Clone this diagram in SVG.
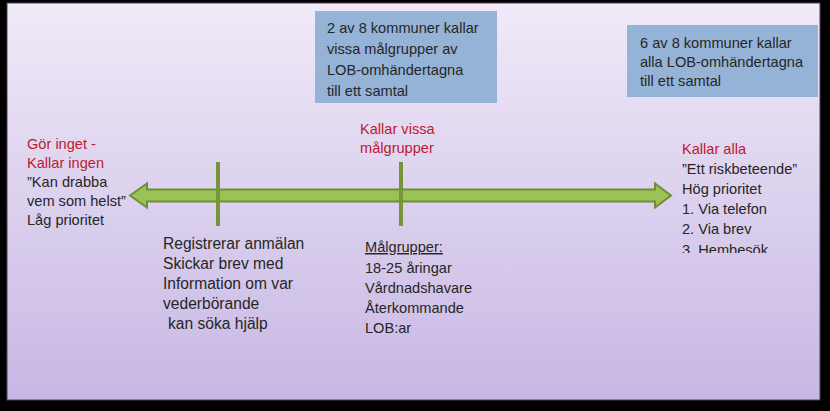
<svg xmlns="http://www.w3.org/2000/svg" width="830" height="411" viewBox="0 0 830 411">
<defs>
<linearGradient id="bg" x1="0" y1="0" x2="0" y2="1">
<stop offset="0" stop-color="#f0eaf8"/>
<stop offset="1" stop-color="#c7b7e4"/>
</linearGradient>
<clipPath id="clipR"><rect x="600" y="100" width="220" height="153"/></clipPath>
</defs>
<style>
text{font-family:"Liberation Sans",Arial,sans-serif;font-size:14.6px;fill:#262626}
.red{fill:#c0182e}
.box{fill:#95b3d7}
.tick{stroke:#77933c;stroke-width:4;fill:none}
.big{font-size:15.6px}
</style>
<rect x="0" y="0" width="830" height="411" fill="#000"/>
<rect x="7" y="3" width="813" height="397" fill="url(#bg)" stroke="#4a3f5c" stroke-width="1"/>
<g id="connectors">
<path d="M130,195.5 L147,183.5 L147,189.5 L655,189.5 L655,183.5 L671,195.5 L655,207.5 L655,201.5 L147,201.5 L147,207.5 Z" fill="#9bc255" stroke="#6f8e35" stroke-width="2" stroke-linejoin="miter"/>
<line class="tick" x1="218" y1="162" x2="218" y2="226"/>
<line class="tick" x1="401" y1="162" x2="401" y2="226"/>
</g>
<g id="box-two-of-eight">
<rect class="box" x="315" y="11" width="182" height="92"/>
<text x="327" y="33">2 av 8 kommuner kallar</text>
<text x="327" y="54">vissa målgrupper av</text>
<text x="327" y="75">LOB-omhändertagna</text>
<text x="327" y="96">till ett samtal</text>
</g>
<g id="box-six-of-eight">
<rect class="box" x="627" y="25" width="191" height="72"/>
<text x="640" y="48">6 av 8 kommuner kallar</text>
<text x="640" y="67">alla LOB-omhändertagna</text>
<text x="640" y="86">till ett samtal</text>
</g>
<g id="node-left">
<text class="red" x="27" y="149">Gör inget -</text>
<text class="red" x="27" y="168">Kallar ingen</text>
<text x="27" y="187">”Kan drabba</text>
<text x="27" y="206">vem som helst”</text>
<text x="27" y="225">Låg prioritet</text>
</g>
<g id="node-middle">
<text class="red" x="360" y="134">Kallar vissa</text>
<text class="red" x="360" y="153">målgrupper</text>
</g>
<g id="node-right" clip-path="url(#clipR)">
<text class="red" x="682" y="154">Kallar alla</text>
<text x="682" y="174">”Ett riskbeteende”</text>
<text x="682" y="194">Hög prioritet</text>
<text x="682" y="214">1. Via telefon</text>
<text x="682" y="234">2. Via brev</text>
<text x="682" y="255">3. Hembesök</text>
</g>
<g id="node-registrerar">
<text class="big" x="163" y="249">Registrerar anmälan</text>
<text class="big" x="163" y="269">Skickar brev med</text>
<text class="big" x="163" y="289">Information om var</text>
<text class="big" x="163" y="309">vederbörande</text>
<text class="big" x="168" y="329">kan söka hjälp</text>
</g>
<g id="node-malgrupper">
<text x="365" y="252" text-decoration="underline">Målgrupper:</text>
<text x="365" y="273">18-25 åringar</text>
<text x="365" y="293">Vårdnadshavare</text>
<text x="365" y="313">Återkommande</text>
<text x="365" y="333">LOB:ar</text>
</g>
</svg>
